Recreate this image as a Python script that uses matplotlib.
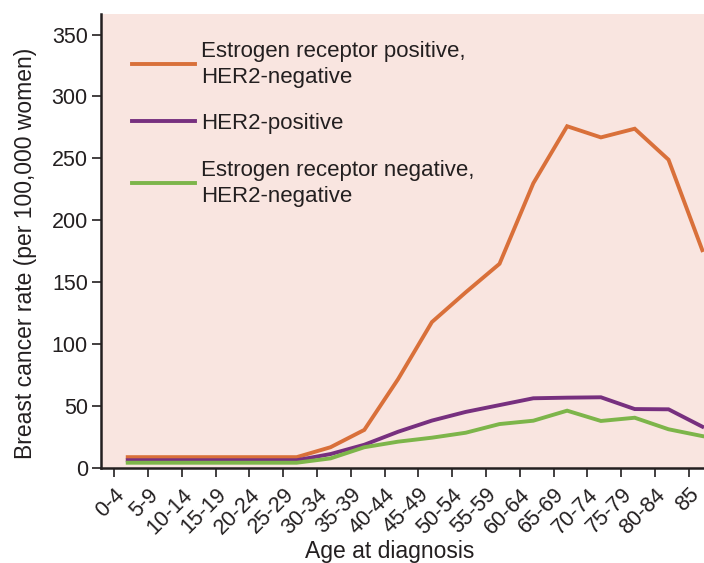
import numpy as np
import matplotlib
matplotlib.use('Agg')
from matplotlib import pyplot as plt

# age groups on the x axis
age_groups = ['0-4', '5-9', '10-14', '15-19', '20-24', '25-29', '30-34', '35-39',
              '40-44', '45-49', '50-54', '55-59', '60-64', '65-69', '70-74',
              '75-79', '80-84', '85']

# rates per 100,000 women
er_pos_her2_neg = [9, 9, 9, 9, 9, 9, 17, 31, 72, 118, 142, 165, 230, 276, 267, 274, 249, 176]
her2_pos = [6.5, 6.5, 6.5, 6.5, 6.5, 6.5, 11.5, 19, 29.5, 38.5, 45.5, 51, 56.5, 57, 57.3, 47.8, 47.6, 33.6]
er_neg_her2_neg = [4.5, 4.5, 4.5, 4.5, 4.5, 4.5, 8, 17, 21.5, 24.7, 28.7, 35.7, 38.4, 46.5, 38.2, 40.8, 31.5, 26]

labels = ['Estrogen receptor positive,\nHER2-negative',
          'HER2-positive',
          'Estrogen receptor negative,\nHER2-negative']
colors = ['#d9703a', '#77307f', '#7db54a']

plt.rcParams['font.family'] = ['Liberation Sans', 'DejaVu Sans']
text_color = '#231f20'

fig = plt.figure(figsize=(7.04, 5.63), dpi=100)
ax = fig.add_axes([0.1435, 0.1682, 0.8565, 0.8068])
ax.set_facecolor('#f9e5e0')

x = np.arange(len(age_groups))
for y, lab, c in zip([er_pos_her2_neg, her2_pos, er_neg_her2_neg], labels, colors):
    ax.plot(x, y, color=c, lw=2.8, label=lab, solid_joinstyle='miter')

ax.set_xlim(-0.79, 17.05)
ax.set_ylim(0, 366.5)
ax.set_xticks(x - 0.4)
ax.set_xticklabels(age_groups, rotation=45, ha='right', rotation_mode='anchor')
ax.set_yticks(np.arange(0, 351, 50))

for s in ['top', 'right']:
    ax.spines[s].set_visible(False)
for s in ['left', 'bottom']:
    ax.spines[s].set_linewidth(1.8)
    ax.spines[s].set_color(text_color)
ax.tick_params(axis='both', length=6.5, width=1.2, colors=text_color, labelsize=15.5)
ax.tick_params(axis='x', pad=5)
ax.tick_params(axis='y', pad=3)

ax.set_xlabel('Age at diagnosis', fontsize=16.5, color=text_color)
ax.xaxis.set_label_coords(0.479, -0.157)
ax.set_ylabel('Breast cancer rate (per 100,000 women)', fontsize=16.5, color=text_color)
ax.yaxis.set_label_coords(-0.107, 0.474)

leg = ax.legend(loc='upper left', bbox_to_anchor=(0.051, 0.941), frameon=False,
                fontsize=16, handlelength=2.85, handletextpad=0.27, labelspacing=1.15,
                borderaxespad=0, borderpad=0)
for t in leg.get_texts():
    t.set_color(text_color)
    t.set_linespacing(1.3)

plt.savefig('out.png', dpi=100)
plt.close()
